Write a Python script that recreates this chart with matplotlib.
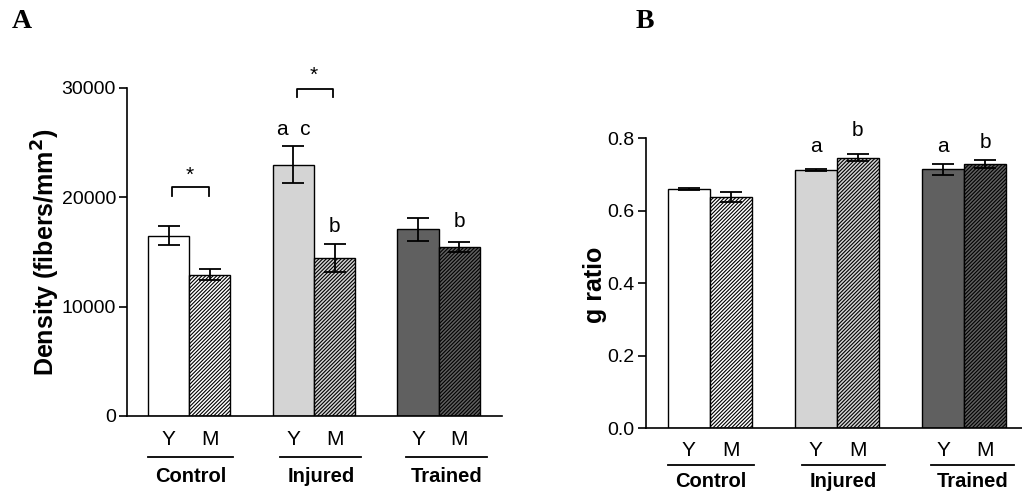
import numpy as np
import matplotlib
matplotlib.use('Agg')
import matplotlib.pyplot as plt

plt.rcParams['font.family']=['Liberation Sans','DejaVu Sans']
plt.rcParams['hatch.linewidth']=0.8

fs=15

groups=['Control','Injured','Trained']
ages=['Y','M']
colours=['#ffffff','#d4d4d4','#606060']

# panel A: density (fibers/mm2)
dens_Y=[16500,23000,17100]
dens_Y_err=[900,1650,1050]
dens_M=[12900,14450,15450]
dens_M_err=[500,1300,420]

# panel B: g ratio
g_Y=[0.659,0.7125,0.714]
g_Y_err=[0.003,0.003,0.016]
g_M=[0.639,0.7465,0.729]
g_M_err=[0.014,0.009,0.012]

# letters above bars: (group, age index, text, value)
dens_letters=[(1,0,'a  c',26200),(1,1,'b',17350),(2,1,'b',17750)]
g_letters=[(1,0,'a',0.777),(1,1,'b',0.821),(2,0,'a',0.777),(2,1,'b',0.788)]

# significance brackets: (group, height, tick height, star height)
dens_brackets=[(0,20900,20150,22050),(1,29900,29150,31200)]

w=0.33
x=np.arange(3)

fig=plt.figure(figsize=(10.22,4.98),dpi=100)
axA=fig.add_axes([0.1243,0.1647,0.367,0.6586])
axB=fig.add_axes([0.632,0.140,0.368,0.5823])

line_ext={'A':[(-0.33,0.35),(-0.27,0.38),(-0.26,0.39)],
          'B':[(-0.33,0.35),(-0.27,0.375),(-0.26,0.39)]}

def draw(ax,Y,Ye,M,Me,ylim,yticks,ylabs,ext,ytxt,xmax):
    for i in range(3):
        ax.bar(x[i]-w/2,Y[i],w,color=colours[i],edgecolor='k',linewidth=1)
        ax.bar(x[i]+w/2,M[i],w,color=colours[i],edgecolor='k',linewidth=1,hatch='/'*9)
    ax.errorbar(x-w/2,Y,yerr=Ye,fmt='none',ecolor='k',elinewidth=1.3,capsize=7.8,capthick=1.3)
    ax.errorbar(x+w/2,M,yerr=Me,fmt='none',ecolor='k',elinewidth=1.3,capsize=7.8,capthick=1.3)
    ax.set_xlim([-0.5,xmax])
    ax.set_ylim(ylim)
    ax.set_yticks(yticks)
    ax.set_yticklabels(ylabs)
    ax.set_xticks([])
    ax.spines['top'].set_visible(False)
    ax.spines['right'].set_visible(False)
    ax.spines['left'].set_linewidth(1.2)
    ax.spines['bottom'].set_linewidth(1.2)
    ax.tick_params(axis='y',labelsize=14,length=6,width=1.2,pad=2)
    tr=ax.get_xaxis_transform()
    for i in range(3):
        ax.text(x[i]-w/2,ytxt[0],'Y',transform=tr,ha='center',va='center',size=fs)
        ax.text(x[i]+w/2,ytxt[0],'M',transform=tr,ha='center',va='center',size=fs)
        a,b=ext[i]
        ax.plot([x[i]+a,x[i]+b],[ytxt[1],ytxt[1]],color='k',linewidth=1.3,transform=tr,clip_on=False)
        ax.text(x[i]+(a+b)/2,ytxt[2],groups[i],transform=tr,ha='center',va='center',size=14.5,fontweight='bold')

draw(axA,dens_Y,dens_Y_err,dens_M,dens_M_err,[0,30000],[0,10000,20000,30000],
     ['0','10000','20000','30000'],line_ext['A'],[-0.073,-0.124,-0.185],2.51)
draw(axB,g_Y,g_Y_err,g_M,g_M_err,[0,0.8],[0,0.2,0.4,0.6,0.8],
     ['0.0','0.2','0.4','0.6','0.8'],line_ext['B'],[-0.075,-0.127,-0.185],2.455)

for g,a,t,v in dens_letters:
    axA.text(x[g]+(a-0.5)*w,v,t,ha='center',va='center',size=fs,clip_on=False)
for g,a,t,v in g_letters:
    axB.text(x[g]+(a-0.5)*w,v,t,ha='center',va='center',size=fs,clip_on=False)

for g,h,th,sh in dens_brackets:
    axA.plot([x[g]-0.14,x[g]-0.14,x[g]+0.155,x[g]+0.155],[th,h,h,th],color='k',linewidth=1.3,clip_on=False)
    axA.text(x[g],sh,'*',ha='center',va='center',size=fs,clip_on=False)

fig.text(0.045,0.494,'Density (fibers/mm$^\\mathbf{2}$)',rotation=90,ha='center',va='center',
         size=18,fontweight='bold')
fig.text(0.582,0.428,'g ratio',rotation=90,ha='center',va='center',
         size=18,fontweight='bold')

fig.text(0.021,0.956,'A',size=20,fontweight='bold',family='Liberation Serif',ha='center',va='center')
fig.text(0.631,0.956,'B',size=20,fontweight='bold',family='Liberation Serif',ha='center',va='center')

plt.savefig('out.png',dpi=100)
